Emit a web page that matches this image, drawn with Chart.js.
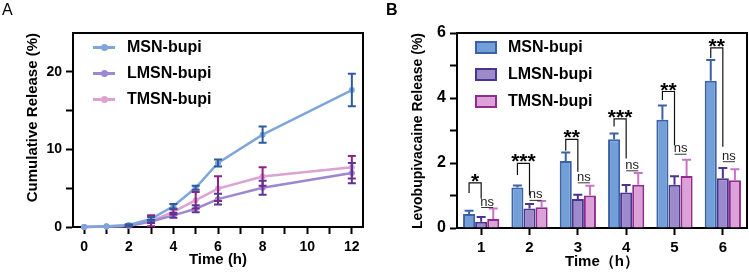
<!DOCTYPE html>
<html>
<head>
<meta charset="utf-8">
<script src="https://cdn.jsdelivr.net/npm/chart.js@4.4.1/dist/chart.umd.min.js"></script>
<style>
  body { margin: 0; background: #fff; width: 749px; height: 273px; overflow: hidden; position: relative;
         font-family: "Liberation Sans", Arial, Helvetica, sans-serif; }
  .panel { position: absolute; top: 0; height: 273px; }
  #wrapA { left: 0; width: 380px; }
  #wrapB { left: 380px; width: 369px; }
  .tag { position: absolute; color: #000; }
  .row { position: absolute; height: 20px; line-height: 20px; font-size: 16px; font-weight: bold; white-space: nowrap; color: #000; }
  .mk { display: inline-block; position: relative; width: 22px; height: 20px; vertical-align: top; }
  .mk .ln { position: absolute; left: 0; top: 9px; width: 22px; height: 3px; }
  .mk .dt { position: absolute; left: 8px; top: 7px; width: 7px; height: 7px; border-radius: 50%; }
  .box { display: inline-block; width: 18px; height: 9px; border: 2px solid; vertical-align: top; margin-top: 4px; }
  .row span.t { margin-left: 11px; }
</style>
</head>
<body>
<div class="panel" id="wrapA">
  <canvas id="chartA" width="380" height="273"></canvas>
  <div class="tag" style="left:2px; top:1px; font-size:16px;">A</div>
  <div id="legA"></div>
</div>
<div class="panel" id="wrapB">
  <canvas id="chartB" width="369" height="273"></canvas>
  <div class="tag" style="left:6px; top:1px; font-size:16px; font-weight:bold;">B</div>
  <div id="legB"></div>
</div>
<script>
// ---- panel A data ----
var seriesNames = ['MSN-bupi', 'LMSN-bupi', 'TMSN-bupi'];
var timeA = [0, 1, 2, 3, 4, 5, 6, 8, 12];
var msnA  = [0, 0.1, 0.25, 1.05, 2.67, 5.05, 8.25, 11.9, 17.65];
var lmsnA = [0, 0.05, 0.12, 0.7, 1.5, 2.35, 3.6, 5.05, 6.95];
var tmsnA = [0, 0.05, 0.15, 0.8, 1.95, 3.45, 4.95, 6.5, 7.7];
var msnErrA  = [0, 0, 0.1, 0.25, 0.3, 0.25, 0.45, 1.05, 2.1];
var lmsnErrA = [0, 0, 0.05, 0.2, 0.3, 0.45, 0.7, 0.9, 1.3];
var tmsnErrA = [0, 0, 0.05, 0.7, 0.35, 1.05, 1.6, 1.2, 1.45];
var xTicksA = [0, 1, 2, 3, 4, 5, 6, 7, 8, 9, 10, 11, 12];
var yTicksA = [0, 5, 10, 15, 20];

// ---- panel B data ----
var hoursB = ['1', '2', '3', '4', '5', '6'];
var msnB  = [0.43, 1.25, 2.06, 2.73, 3.33, 4.53];
var lmsnB = [0.19, 0.6, 0.89, 1.09, 1.33, 1.53];
var tmsnB = [0.28, 0.64, 1.0, 1.33, 1.6, 1.47];
var msnErrB  = [0.1, 0.06, 0.26, 0.18, 0.44, 0.64];
var lmsnErrB = [0.15, 0.14, 0.13, 0.23, 0.26, 0.32];
var tmsnErrB = [0.32, 0.19, 0.3, 0.36, 0.5, 0.34];
var yTicksB = [0, 1, 2, 3, 4, 5, 6];
var sigLabels   = ['*', '***', '**', '***', '**', '**'];
var sigTop      = [1.39, 1.99, 2.73, 3.36, 4.2, 5.54];
var sigLeftEnd  = [1.08, 1.63, 2.38, 3.12, 3.94, 5.23];
var sigRightEnd = [0.9, 1.0, 1.73, 2.14, 2.55, 2.5];
var nsLine      = [0.63, 0.85, 1.39, 1.76, 2.27, 2.04];

var lineColors  = ['#7fa6dc', '#9c88d1', '#dba2d2'];
var errColorsA  = ['#2e5a9e', '#5a3596', '#8e2385'];
var barFills    = ['#739fd8', '#9c8acb', '#dca2d7'];
var barBorders  = ['#3b62a6', '#4a3490', '#922a90'];
var errColorsB  = ['#3b62a6', '#4a3490', '#c874c4'];

Chart.defaults.font.family = "'Liberation Sans', Arial, Helvetica, sans-serif";
Chart.defaults.color = '#000';

// top and right edge of the plot box
var framePlugin = {
    id: 'frame',
    afterDraw: function (chart) {
        var ctx = chart.ctx, a = chart.chartArea;
        ctx.save();
        ctx.strokeStyle = '#000';
        ctx.lineWidth = 2;
        ctx.beginPath();
        ctx.moveTo(a.left - 1, a.top);
        ctx.lineTo(a.right, a.top);
        ctx.lineTo(a.right, a.bottom + 1);
        ctx.stroke();
        ctx.restore();
    }
};

// error bars, read from dataset.vals / dataset.errs through the y scale
var errorBarPlugin = {
    id: 'errorBars',
    afterDatasetsDraw: function (chart, args, opts) {
        var ctx = chart.ctx, ys = chart.scales.y;
        for (var i = chart.data.datasets.length - 1; i >= 0; i--) {
            var ds = chart.data.datasets[i];
            var meta = chart.getDatasetMeta(i);
            ctx.save();
            ctx.strokeStyle = ds.errColor;
            ctx.lineWidth = 2;
            meta.data.forEach(function (el, j) {
                var e = ds.errs[j];
                if (!e) return;
                var top = ys.getPixelForValue(ds.vals[j] + e);
                var bot = opts.upOnly ? el.y : ys.getPixelForValue(ds.vals[j] - e);
                var w = opts.cap / 2;
                ctx.beginPath();
                ctx.moveTo(el.x, top); ctx.lineTo(el.x, bot);
                ctx.moveTo(el.x - w, top); ctx.lineTo(el.x + w, top);
                if (!opts.upOnly) { ctx.moveTo(el.x - w, bot); ctx.lineTo(el.x + w, bot); }
                ctx.stroke();
            });
            ctx.restore();
        }
    }
};

// significance brackets and ns marks for panel B
var sigPlugin = {
    id: 'sig',
    afterDatasetsDraw: function (chart) {
        var ctx = chart.ctx, ys = chart.scales.y;
        var m0 = chart.getDatasetMeta(0).data, m1 = chart.getDatasetMeta(1).data, m2 = chart.getDatasetMeta(2).data;
        ctx.save();
        for (var i = 0; i < sigLabels.length; i++) {
            var xl = m0[i].x, xr = m1[i].x, xt = m2[i].x;
            var yt = ys.getPixelForValue(sigTop[i]);
            ctx.strokeStyle = '#111';
            ctx.lineWidth = 1.2;
            ctx.beginPath();
            ctx.moveTo(xl, ys.getPixelForValue(sigLeftEnd[i]));
            ctx.lineTo(xl, yt);
            ctx.lineTo(xr, yt);
            ctx.lineTo(xr, ys.getPixelForValue(sigRightEnd[i]));
            ctx.stroke();
            ctx.fillStyle = '#000';
            ctx.font = "bold 21px 'Liberation Sans', Arial, sans-serif";
            ctx.textAlign = 'center';
            ctx.textBaseline = 'alphabetic';
            ctx.fillText(sigLabels[i], (xl + xr) / 2, yt + 5);
            // ns
            var yn = ys.getPixelForValue(nsLine[i]);
            ctx.beginPath();
            ctx.lineWidth = 1;
            ctx.strokeStyle = '#333';
            ctx.moveTo(xr, yn); ctx.lineTo(xt, yn);
            ctx.stroke();
            ctx.font = "13px 'Liberation Sans', Arial, sans-serif";
            ctx.fillStyle = '#222';
            ctx.fillText('ns', (xr + xt) / 2, yn - 2);
        }
        ctx.restore();
    }
};

var axisGrid = { drawOnChartArea: false, drawTicks: true, tickLength: 7, tickWidth: 2, tickColor: '#000', offset: false };
var axisBorder = { color: '#000', width: 2 };

// ---------- chart A ----------
var dsA = [msnA, lmsnA, tmsnA].map(function (vals, k) {
    return {
        label: seriesNames[k],
        data: vals.map(function (v, j) { return { x: timeA[j], y: v }; }),
        vals: vals,
        errs: [msnErrA, lmsnErrA, tmsnErrA][k],
        errColor: errColorsA[k],
        borderColor: lineColors[k],
        backgroundColor: lineColors[k],
        borderWidth: 2.5,
        pointRadius: 3,
        pointBorderWidth: 0,
        pointBackgroundColor: lineColors[k],
        tension: 0,
        clip: false
    };
});

new Chart(document.getElementById('chartA'), {
    type: 'line',
    data: { datasets: dsA },
    options: {
        responsive: false,
        animation: false,
        devicePixelRatio: 1,
        layout: { padding: { top: 33, right: 17, left: 0, bottom: 0 } },
        plugins: { legend: { display: false }, tooltip: { enabled: false },
                   errorBars: { cap: 8, upOnly: false } },
        scales: {
            x: {
                type: 'linear', min: -0.5, max: 12.5,
                afterBuildTicks: function (s) { s.ticks = xTicksA.map(function (v) { return { value: v }; }); },
                afterFit: function (s) { s.height = 46; },
                grid: axisGrid, border: axisBorder,
                ticks: { font: { size: 14, weight: 'bold' }, padding: 5, maxRotation: 0, autoSkip: false,
                         callback: function (v) { return v % 2 === 0 ? v : ''; } },
                title: { display: true, text: 'Time (h)', font: { size: 15, weight: 'bold' }, padding: { top: 0, bottom: 4 } }
            },
            y: {
                min: 0, max: 25,
                afterBuildTicks: function (s) { s.ticks = yTicksA.map(function (v) { return { value: v }; }); },
                afterFit: function (s) { s.width = 73; },
                grid: axisGrid, border: axisBorder,
                ticks: { font: { size: 14, weight: 'bold' }, padding: 4,
                         callback: function (v) { return v % 10 === 0 ? v : ''; } },
                title: { display: true, text: 'Cumulative Release (%)', align: 'end', font: { size: 15, weight: 'bold' }, padding: { top: 24, bottom: 0 } }
            }
        }
    },
    plugins: [framePlugin, errorBarPlugin]
});

// ---------- chart B ----------
var dsB = [msnB, lmsnB, tmsnB].map(function (vals, k) {
    return {
        label: seriesNames[k],
        data: vals,
        vals: vals,
        errs: [msnErrB, lmsnErrB, tmsnErrB][k],
        errColor: errColorsB[k],
        backgroundColor: barFills[k],
        borderColor: barBorders[k],
        borderWidth: 2,
        categoryPercentage: 0.75,
        barPercentage: 1.0
    };
});

new Chart(document.getElementById('chartB'), {
    type: 'bar',
    data: { labels: hoursB, datasets: dsB },
    options: {
        responsive: false,
        animation: false,
        devicePixelRatio: 1,
        layout: { padding: { top: 33, right: 2, left: 0, bottom: 0 } },
        plugins: { legend: { display: false }, tooltip: { enabled: false },
                   errorBars: { cap: 9, upOnly: true } },
        scales: {
            x: {
                afterFit: function (s) { s.height = 45; },
                grid: axisGrid, border: axisBorder,
                ticks: { font: { size: 15, weight: 'bold' }, padding: 4, maxRotation: 0 },
                title: { display: true, text: 'Time（h）', font: { size: 15, weight: 'bold' }, padding: { top: 0, bottom: 2 } }
            },
            y: {
                min: 0, max: 6,
                afterBuildTicks: function (s) { s.ticks = yTicksB.map(function (v) { return { value: v }; }); },
                afterFit: function (s) { s.width = 77; },
                grid: axisGrid, border: axisBorder,
                ticks: { font: { size: 16, weight: 'bold' }, padding: 4,
                         callback: function (v) { return v % 2 === 0 ? v : ''; } },
                title: { display: true, text: 'Levobupivacaine Release (%)', align: 'end', font: { size: 14, weight: 'bold' }, padding: { top: 30, bottom: 0 } }
            }
        }
    },
    plugins: [framePlugin, errorBarPlugin, sigPlugin]
});

// ---------- legends ----------
var rowCentersA = [47, 73, 99];
var legA = document.getElementById('legA');
seriesNames.forEach(function (name, k) {
    var row = document.createElement('div');
    row.className = 'row';
    row.style.left = '93px';
    row.style.top = (rowCentersA[k] - 10) + 'px';
    row.innerHTML = '<span class="mk"><span class="ln" style="background:' + lineColors[k] + '"></span>' +
        '<span class="dt" style="background:' + lineColors[k] + '"></span></span><span class="t" style="margin-left:12px">' + name + '</span>';
    legA.appendChild(row);
});

var rowCentersB = [47, 74, 101];
var legB = document.getElementById('legB');
seriesNames.forEach(function (name, k) {
    var row = document.createElement('div');
    row.className = 'row';
    row.style.left = '95px';
    row.style.top = (rowCentersB[k] - 10) + 'px';
    row.innerHTML = '<span class="box" style="background:' + barFills[k] + ';border-color:' + barBorders[k] + '"></span>' +
        '<span class="t">' + name + '</span>';
    legB.appendChild(row);
});
</script>
</body>
</html>
